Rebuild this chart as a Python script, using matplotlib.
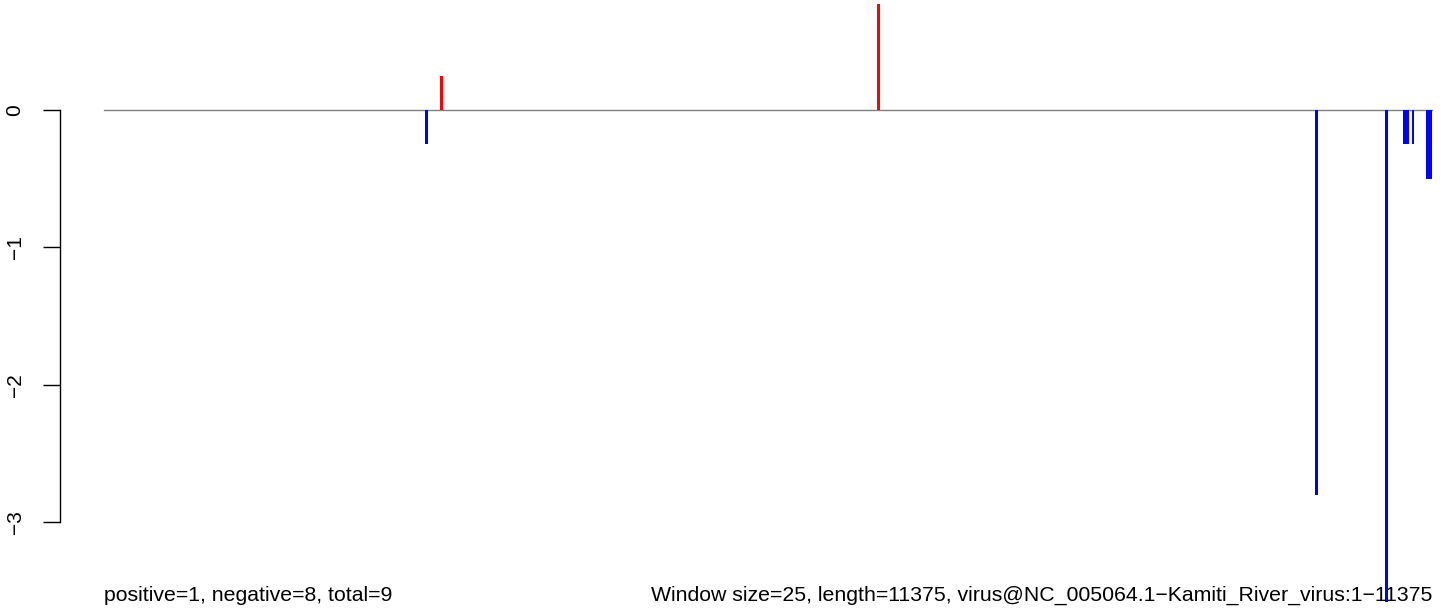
import matplotlib
matplotlib.use("Agg")
import matplotlib.pyplot as plt

plt.rcParams['font.family'] = ['Liberation Sans', 'DejaVu Sans']

# window start positions and scores (window size 25)
seq_length = 11375
window = 25
pos_starts = [2875, 6625]
pos_values = [0.25, 0.77]
neg_starts = [2750, 10375, 10975, 11125, 11150, 11200, 11325, 11350]
neg_values = [-0.25, -2.8, -3.6, -0.25, -0.25, -0.25, -0.5, -0.5]
yticks = [0, -1, -2, -3]

W, H = 1444, 613
fig = plt.figure(figsize=(W / 100, H / 100), dpi=100)

# pixel mapping: x 0 -> 104px, 11375 -> 1432px ; y 0 -> 110px, -3 -> 522px
x0_px, x1_px = 104, 1432
sx = (x1_px - x0_px) / seq_length
ax_left_px, ax_right_px = 60, 1440
y_top_px, y_bot_px = 4, 602
sy = (522 - 110) / 3.0

ax = fig.add_axes([ax_left_px / W, 1 - y_bot_px / H,
                   (ax_right_px - ax_left_px) / W, (y_bot_px - y_top_px) / H])
ax.set_xlim((ax_left_px - x0_px) / sx, (ax_right_px - x0_px) / sx)
ax.set_ylim(-(y_bot_px - 110) / sy, (110 - y_top_px) / sy)
ax.patch.set_visible(False)

ax.plot([0, seq_length], [0, 0], color='#808080', lw=1, zorder=1)
ax.bar(pos_starts, pos_values, width=window, align='edge', color='red', lw=0, zorder=2)
ax.bar(neg_starts, neg_values, width=window, align='edge', color='blue', lw=0, zorder=2)

for s in ['top', 'right', 'bottom']:
    ax.spines[s].set_visible(False)
ax.spines['left'].set_bounds(-3, 0)
ax.spines['left'].set_linewidth(1)
ax.set_xticks([])
ax.set_yticks(yticks)
ax.set_yticklabels([str(v).replace('-', '\u2212') for v in yticks],
                   rotation=90, va='center', fontsize=15)
ax.tick_params(axis='y', length=12, width=1, pad=13.5)

fig.text(104 / W, 1 - 601 / H, 'positive=1, negative=8, total=9',
         fontsize=15.3, ha='left', va='baseline', zorder=-1)
fig.text(1432 / W, 1 - 601 / H,
         'Window size=25, length=11375, virus@NC_005064.1\u2212Kamiti_River_virus:1\u221211375',
         fontsize=15.3, ha='right', va='baseline', zorder=-1)

fig.savefig('out.png', dpi=100)
